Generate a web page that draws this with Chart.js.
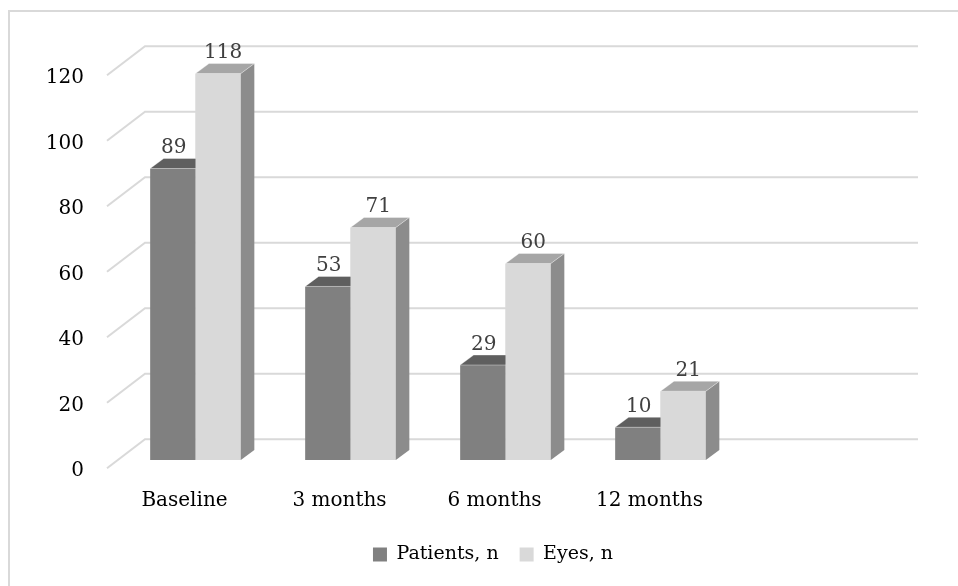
<!DOCTYPE html>
<html>
<head>
<meta charset="utf-8">
<script src="https://cdn.jsdelivr.net/npm/chart.js@4.4.1/dist/chart.umd.min.js"></script>
<style>
  html, body { margin: 0; padding: 0; background: #ffffff; }
  canvas { display: block; }
</style>
</head>
<body>
<canvas id="chart" width="958" height="586"></canvas>
<script>
// Follow-up counts per visit
const categories = ['Baseline', '3 months', '6 months', '12 months'];
const patients = [89, 53, 29, 10];
const eyes = [118, 71, 60, 21];
const yTicks = [0, 20, 40, 60, 80, 100, 120];

const FONT = "'DejaVu Serif', 'Liberation Serif', serif";

// Oblique projection used for the 3-D look
const BAR_DX = 13.5, BAR_DY = -10;     // depth of each bar
const FRONT = { dx: -11, dy: 8.3 };    // front edge of the side wall, relative to the bar plane
const BACK = { dx: 27, dy: -20.7 };    // back wall, relative to the bar plane

const faces = [
  { front: '#808080', top: '#5f5f5f', side: '#6a6a6a' },
  { front: '#d9d9d9', top: '#a6a6a6', side: '#8c8c8c' }
];

function poly(ctx, pts, fill) {
  ctx.beginPath();
  ctx.moveTo(pts[0][0], pts[0][1]);
  for (let i = 1; i < pts.length; i++) ctx.lineTo(pts[i][0], pts[i][1]);
  ctx.closePath();
  ctx.fillStyle = fill;
  ctx.fill();
}

// White page, outer frame and the slanted gridlines of the wall
const wallPlugin = {
  id: 'wall',
  beforeDraw(chart) {
    const { ctx, width, height } = chart;
    ctx.save();
    ctx.fillStyle = '#ffffff';
    ctx.fillRect(0, 0, width, height);
    ctx.strokeStyle = '#d9d9d9';
    ctx.lineWidth = 2;
    ctx.strokeRect(9, 11, width + 20, height + 20);
    ctx.restore();
  },
  beforeDatasetsDraw(chart) {
    const { ctx, chartArea: a, scales: { y } } = chart;
    const band = a.width / categories.length;
    const xEnd = a.right + band + BACK.dx - 2;
    ctx.save();
    ctx.strokeStyle = '#d9d9d9';
    ctx.lineWidth = 2;
    yTicks.forEach(v => {
      const py = y.getPixelForValue(v);
      ctx.beginPath();
      ctx.moveTo(a.left + FRONT.dx, py + FRONT.dy);
      ctx.lineTo(a.left + BACK.dx, py + BACK.dy);
      ctx.lineTo(xEnd, py + BACK.dy);
      ctx.stroke();
    });
    ctx.restore();
  }
};

// Top and side faces of each bar, plus the value labels
const depthPlugin = {
  id: 'depth',
  afterDatasetsDraw(chart) {
    const ctx = chart.ctx;
    const metas = chart.data.datasets.map((d, i) => chart.getDatasetMeta(i));
    ctx.save();
    categories.forEach((c, j) => {
      metas.forEach((meta, i) => {
        const el = meta.data[j];
        const { x, y, base, width } = el.getProps(['x', 'y', 'base', 'width'], true);
        const l = x - width / 2, r = x + width / 2;
        const f = faces[i];
        poly(ctx, [[r, y], [r + BAR_DX, y + BAR_DY], [r + BAR_DX, base + BAR_DY], [r, base]], f.side);
        poly(ctx, [[l, y], [r, y], [r + BAR_DX, y + BAR_DY], [l + BAR_DX, y + BAR_DY]], f.top);
        ctx.strokeStyle = 'rgba(255,255,255,0.35)';
        ctx.lineWidth = 1;
        ctx.stroke();
        // the neighbouring bar stands in front of this one's hidden faces
        const nextMeta = metas[i + 1];
        if (nextMeta) {
          const n = nextMeta.data[j].getProps(['x', 'y', 'base', 'width'], true);
          ctx.fillStyle = faces[i + 1].front;
          ctx.fillRect(n.x - n.width / 2, n.y, n.width, n.base - n.y);
        }
      });
    });
    // value labels
    ctx.font = '20px ' + FONT;
    ctx.fillStyle = '#404040';
    ctx.textAlign = 'center';
    ctx.textBaseline = 'alphabetic';
    const shift = [1, 5];
    metas.forEach((meta, i) => {
      const values = chart.data.datasets[i].data;
      meta.data.forEach((el, j) => {
        const { x, y } = el.getProps(['x', 'y'], true);
        ctx.fillText(String(values[j]), x + shift[i], y - 15.5);
      });
    });
    ctx.restore();
  }
};

new Chart(document.getElementById('chart'), {
  type: 'bar',
  data: {
    labels: categories,
    datasets: [
      { label: 'Patients, n', data: patients, backgroundColor: faces[0].front, borderWidth: 0 },
      { label: 'Eyes, n', data: eyes, backgroundColor: faces[1].front, borderWidth: 0 }
    ]
  },
  options: {
    responsive: false,
    animation: false,
    events: [],
    layout: { padding: { top: 67, left: 28, right: 0, bottom: 12 } },
    datasets: { bar: { categoryPercentage: 0.585, barPercentage: 1 } },
    scales: {
      x: {
        type: 'category',
        grid: { display: false, drawTicks: false },
        border: { display: false },
        ticks: { padding: 29, labelOffset: -11, color: '#000000', font: { family: FONT, size: 20 } },
        afterFit(s) { s.height = 64; }
      },
      y: {
        min: 0,
        max: 120,
        grid: { display: false, drawTicks: false },
        border: { display: false },
        ticks: { stepSize: 20, padding: 34, labelOffset: 11, color: '#000000', font: { family: FONT, size: 20 } },
        afterFit(s) { s.width = 90; }
      },
      spare: {
        type: 'linear',
        position: 'right',
        grid: { display: false, drawTicks: false },
        border: { display: false },
        ticks: { display: false },
        afterFit(s) { s.width = 220; }
      }
    },
    plugins: {
      legend: {
        position: 'bottom',
        labels: {
          boxWidth: 14,
          boxHeight: 14,
          padding: 21,
          color: '#000000',
          font: { family: FONT, size: 19 }
        }
      },
      tooltip: { enabled: false }
    }
  },
  plugins: [wallPlugin, depthPlugin]
});
</script>
</body>
</html>
